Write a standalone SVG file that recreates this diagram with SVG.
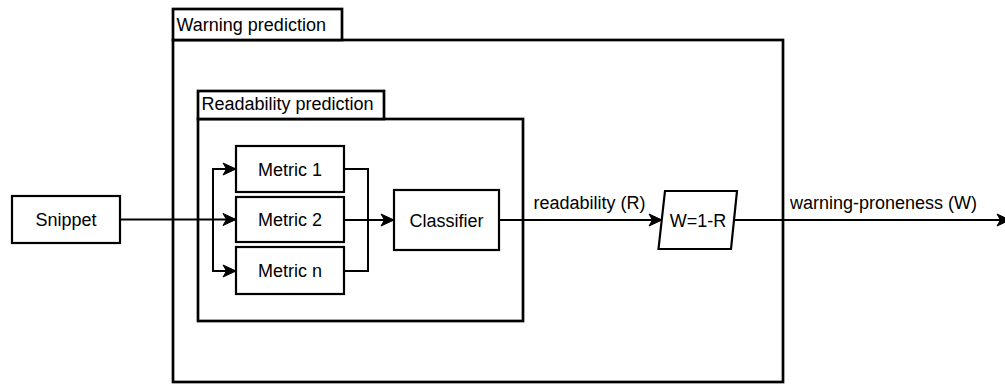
<svg xmlns="http://www.w3.org/2000/svg" width="1005" height="384" viewBox="0 0 1005 384">
  <style>
    .box { fill: #ffffff; stroke: #000000; stroke-width: 2.2; }
    .cont { fill: #ffffff; stroke: #000000; stroke-width: 2.7; }
    .edge { fill: none; stroke: #000000; stroke-width: 2; }
    text { font-family: "Liberation Sans", Arial, Helvetica, sans-serif; font-size: 18px; fill: #000000; }
    .c { text-anchor: middle; }
  </style>
  <defs>
    <marker id="arrow" markerUnits="userSpaceOnUse" markerWidth="16" markerHeight="14" viewBox="0 -7 14 14" refX="13" refY="0" orient="auto">
      <path d="M0,-6 L13,0 L0,6 L3.5,0 Z" fill="#000000" stroke="#000000" stroke-width="1"/>
    </marker>
  </defs>
  <rect width="1005" height="384" fill="#ffffff"/>

  <g id="warning-prediction">
    <rect class="cont" x="173" y="40" width="610" height="342"/>
    <rect class="cont" x="173" y="9" width="169" height="31"/>
    <text x="176.5" y="30.5">Warning prediction</text>
  </g>

  <g id="readability-prediction">
    <rect class="cont" x="198" y="119" width="325" height="202"/>
    <rect class="cont" x="198" y="91" width="186" height="28"/>
    <text x="201.5" y="110">Readability prediction</text>
  </g>

  <g id="snippet">
    <rect class="box" x="12" y="196" width="108" height="47"/>
    <text class="c" x="66" y="226">Snippet</text>
  </g>

  <g id="metric1">
    <rect class="box" x="236" y="146" width="108" height="46"/>
    <text class="c" x="290" y="175.5">Metric 1</text>
  </g>

  <g id="metric2">
    <rect class="box" x="236" y="197" width="108" height="45"/>
    <text class="c" x="290" y="226">Metric 2</text>
  </g>

  <g id="metricn">
    <rect class="box" x="236" y="247" width="108" height="47"/>
    <text class="c" x="290" y="277">Metric n</text>
  </g>

  <g id="classifier">
    <rect class="box" x="394" y="190" width="105" height="60"/>
    <text class="c" x="446.5" y="226.5">Classifier</text>
  </g>

  <g id="formula">
    <polygon class="box" points="665,191 737,191 731,249 658.5,249"/>
    <text class="c" x="698" y="226.5">W=1-R</text>
  </g>

  <g id="connectors">
    <path class="edge" d="M120,219.5 L236,219.5" marker-end="url(#arrow)"/>
    <path class="edge" d="M213,219.5 L213,169 L236,169" marker-end="url(#arrow)"/>
    <path class="edge" d="M213,219.5 L213,271 L236,271" marker-end="url(#arrow)"/>
    <path class="edge" d="M344,169 L368,169 L368,220"/>
    <path class="edge" d="M344,271 L368,271 L368,220"/>
    <path class="edge" d="M344,220 L394,220" marker-end="url(#arrow)"/>
    <path class="edge" d="M499,220 L662,220" marker-end="url(#arrow)"/>
    <text x="533.5" y="209">readability (R)</text>
    <path class="edge" d="M734,220 L1010,220" marker-end="url(#arrow)"/>
    <text x="790" y="209">warning-proneness (W)</text>
  </g>
</svg>
